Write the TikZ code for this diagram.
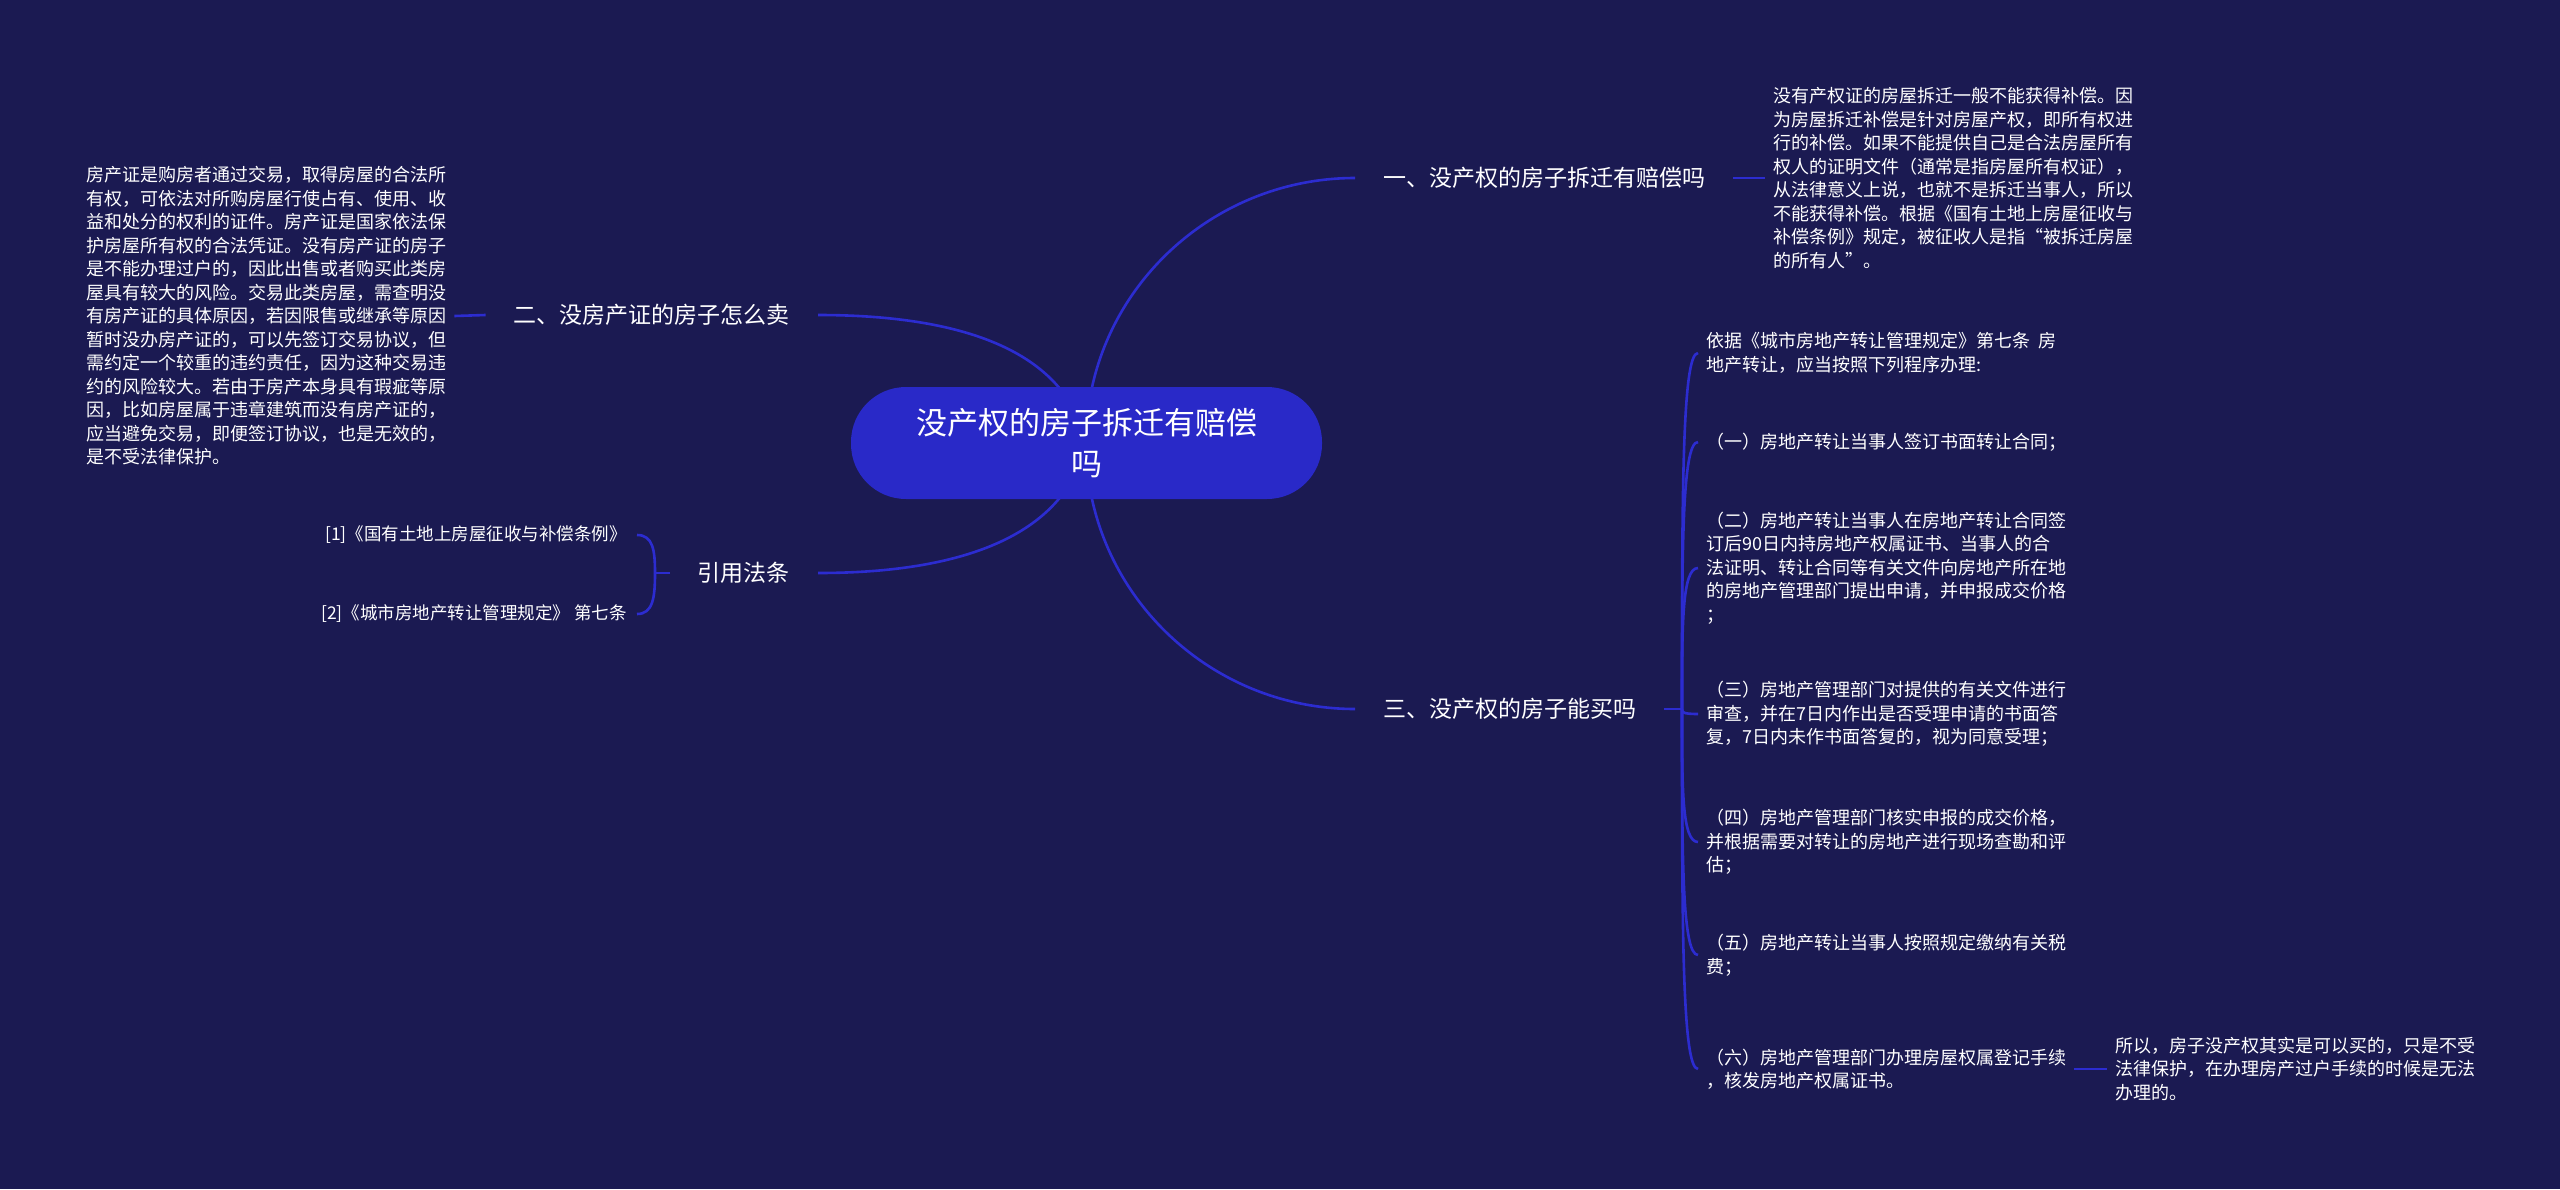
\documentclass[tikz,border=0pt]{standalone}
\usepackage{fontspec}
\setmainfont{Noto Sans CJK SC}
\usetikzlibrary{calc}
\definecolor{bgc}{RGB}{27,26,82}
\definecolor{nodefill}{RGB}{41,41,200}
\definecolor{edgec}{RGB}{44,44,208}
\begin{document}
\begin{tikzpicture}[x=1pt,y=-1pt,
  edge/.style={draw=edgec,line width=2.6pt},
  leaf/.style={text=white,align=left,inner xsep=8pt,inner ysep=0pt,font=\fontsize{18}{23.5}\selectfont},
  reftext/.style={text=white,align=left,inner xsep=10pt,inner ysep=0pt,font=\fontsize{17.5}{22}\selectfont},
  branch/.style={text=white,inner xsep=28pt,inner ysep=0pt,font=\fontsize{23}{28}\selectfont},
  center/.style={fill=nodefill,rounded corners=55pt,minimum width=471pt,minimum height=112pt,text=white,align=center,inner sep=0pt,font=\fontsize{31}{41}\selectfont}]
\fill[bgc] (0,0) rectangle (2560,1189);
\useasboundingbox (0,0) rectangle (2560,1189);

% branches
\node[branch,anchor=west] (b1) at (1355,178) {一、没产权的房子拆迁有赔偿吗};
\node[branch,anchor=east] (b2) at (818,315) {二、没房产证的房子怎么卖};
\node[branch,anchor=east] (b3) at (818,573) {引用法条};
\node[branch,anchor=west] (b4) at (1355,709) {三、没产权的房子能买吗};

% leaves
\node[leaf,anchor=west] (l1) at (1765,178) {没有产权证的房屋拆迁一般不能获得补偿。因\\为房屋拆迁补偿是针对房屋产权，即所有权进\\行的补偿。如果不能提供自己是合法房屋所有\\权人的证明文件（通常是指房屋所有权证），\\从法律意义上说，也就不是拆迁当事人，所以\\不能获得补偿。根据《国有土地上房屋征收与\\补偿条例》规定，被征收人是指“被拆迁房屋\\的所有人”。};
\node[leaf,anchor=west] (l2) at (78,316) {房产证是购房者通过交易，取得房屋的合法所\\有权，可依法对所购房屋行使占有、使用、收\\益和处分的权利的证件。房产证是国家依法保\\护房屋所有权的合法凭证。没有房产证的房子\\是不能办理过户的，因此出售或者购买此类房\\屋具有较大的风险。交易此类房屋，需查明没\\有房产证的具体原因，若因限售或继承等原因\\暂时没办房产证的，可以先签订交易协议，但\\需约定一个较重的违约责任，因为这种交易违\\约的风险较大。若由于房产本身具有瑕疵等原\\因，比如房屋属于违章建筑而没有房产证的，\\应当避免交易，即便签订协议，也是无效的，\\是不受法律保护。};
\node[reftext,anchor=east] (r1) at (637,535) {[1]《国有土地上房屋征收与补偿条例》};
\node[reftext,anchor=east] (r2) at (637,614) {[2]《城市房地产转让管理规定》 第七条};

\node[leaf,anchor=west] (i0) at (1698,353) {依据《城市房地产转让管理规定》第七条\ \ 房\\地产转让，应当按照下列程序办理:};
\node[leaf,anchor=west] (i1) at (1698,442) {（一）房地产转让当事人签订书面转让合同；};
\node[leaf,anchor=west] (i2) at (1698,568) {（二）房地产转让当事人在房地产转让合同签\\订后90日内持房地产权属证书、当事人的合\\法证明、转让合同等有关文件向房地产所在地\\的房地产管理部门提出申请，并申报成交价格\\；};
\node[leaf,anchor=west] (i3) at (1698,714) {（三）房地产管理部门对提供的有关文件进行\\审查，并在7日内作出是否受理申请的书面答\\复，7日内未作书面答复的，视为同意受理；};
\node[leaf,anchor=west] (i4) at (1698,842) {（四）房地产管理部门核实申报的成交价格，\\并根据需要对转让的房地产进行现场查勘和评\\估；};
\node[leaf,anchor=west] (i5) at (1698,955) {（五）房地产转让当事人按照规定缴纳有关税\\费；};
\node[leaf,anchor=west] (i6) at (1698,1069) {（六）房地产管理部门办理房屋权属登记手续\\，核发房地产权属证书。};
\node[leaf,anchor=west] (f) at (2107,1069) {所以，房子没产权其实是可以买的，只是不受\\法律保护，在办理房产过户手续的时候是无法\\办理的。};

% connectors
\coordinate (o) at (1086,443);
\coordinate (jb) at (655,573);
\coordinate (j4) at (1682,709);
\draw[edge] (o) .. controls (1086,297) and (1207,178) .. (b1.west);
\draw[edge] (o) .. controls (1086,590) and (1207,709) .. (b4.west);
\draw[edge] (b2.east) .. controls (980,315) and (1068,360) .. (o);
\draw[edge] (b3.east) .. controls (980,573) and (1068,526) .. (o);
\draw[edge] (b1.east) -- (l1.west);
\draw[edge] (b2.west) -- (l2.east);
\draw[edge] (b3.west) -- (jb);
\foreach \r in {r1,r2}
  \draw[edge] (jb) .. controls ($(jb)!0.6!(jb|-\r.east)$) and ($(\r.east)+(16,0)$) .. (\r.east);
\draw[edge] (b4.east) -- (j4);
\foreach \i in {i0,i1,i2,i3,i4,i5,i6}
  \draw[edge] (j4) .. controls ($(j4)!0.6!(j4|-\i.west)$) and ($(\i.west)+(-16,0)$) .. (\i.west);
\draw[edge] (i6.east) -- (f.west);

% central topic
\node[center] (c) at (1086.5,443) {没产权的房子拆迁有赔偿\\吗};
\end{tikzpicture}
\end{document}
